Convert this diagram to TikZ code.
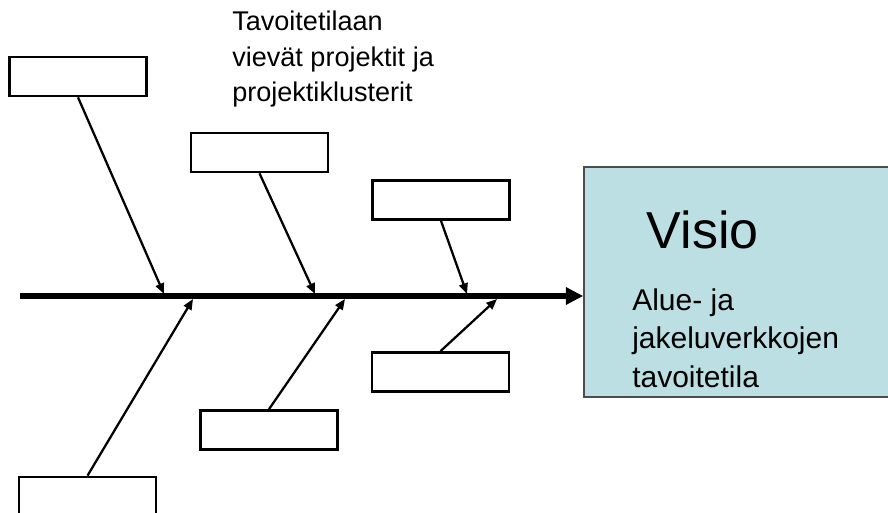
\documentclass[tikz,border=0pt]{standalone}
\usepackage{fontspec}
\setmainfont{Liberation Sans}
\usetikzlibrary{arrows.meta}
\definecolor{visioblue}{HTML}{BBDFE3}
\tikzset{%
  bone/.style={draw, line width=2pt, minimum width=102.75pt, minimum height=29.25pt, inner sep=0pt},
  rib/.style={line width=1.7pt, -{Triangle[length=8pt, width=6.5pt]}}
}

\begin{document}
\begin{tikzpicture}[x=0.75pt, y=-0.75pt]
      \useasboundingbox (0, 0) rectangle (888, 513);

      % goal box
      \node[fill=visioblue, draw=black!70, line width=1.2pt, minimum width=231pt, minimum height=172.5pt, inner sep=0pt] (visio) at (738, 282) {};
      \node[anchor=base west, font=\fontsize{39}{44}\selectfont] (visiotitle) at (642, 248) {Visio};
      \node[anchor=north west, align=left, inner sep=0pt, font=\fontsize{22.5}{29}\selectfont] (visiotext) at (632, 288) {Alue- ja\\jakeluverkkojen\\tavoitetila};

      % spine
      \coordinate (tail) at (20, 296);
      \coordinate (head) at (visio.west |- tail);
      \draw[line width=4.5pt, -{Triangle[length=13pt, width=12.5pt]}] (tail) -- (head);

      % upper bones
      \node[bone] (b1) at (78, 76.5) {};
      \node[bone] (b2) at (259.5, 152.5) {};
      \node[bone] (b3) at (441, 200) {};
      \coordinate (t1) at (164, 294);
      \coordinate (t2) at (315, 294);
      \coordinate (t3) at (467, 294);
      \draw[rib] (b1.south) -- (t1);
      \draw[rib] (b2.south) -- (t2);
      \draw[rib] (b3.south) -- (t3);

      % lower bones
      \node[bone] (b4) at (87.5, 496.5) {};
      \node[bone] (b5) at (269, 430) {};
      \node[bone] (b6) at (440.5, 372) {};
      \coordinate (t4) at (193, 299);
      \coordinate (t5) at (345, 299);
      \coordinate (t6) at (497, 299);
      \draw[rib] (b4.north) -- (t4);
      \draw[rib] (b5.north) -- (t5);
      \draw[rib] (b6.north) -- (t6);

      \node[anchor=north west, align=left, inner sep=0pt, font=\fontsize{20.3}{26.6}\selectfont] (caption) at (232, 11) {Tavoitetilaan\\viev\"at projektit ja\\projektiklusterit};
\end{tikzpicture}
\end{document}
